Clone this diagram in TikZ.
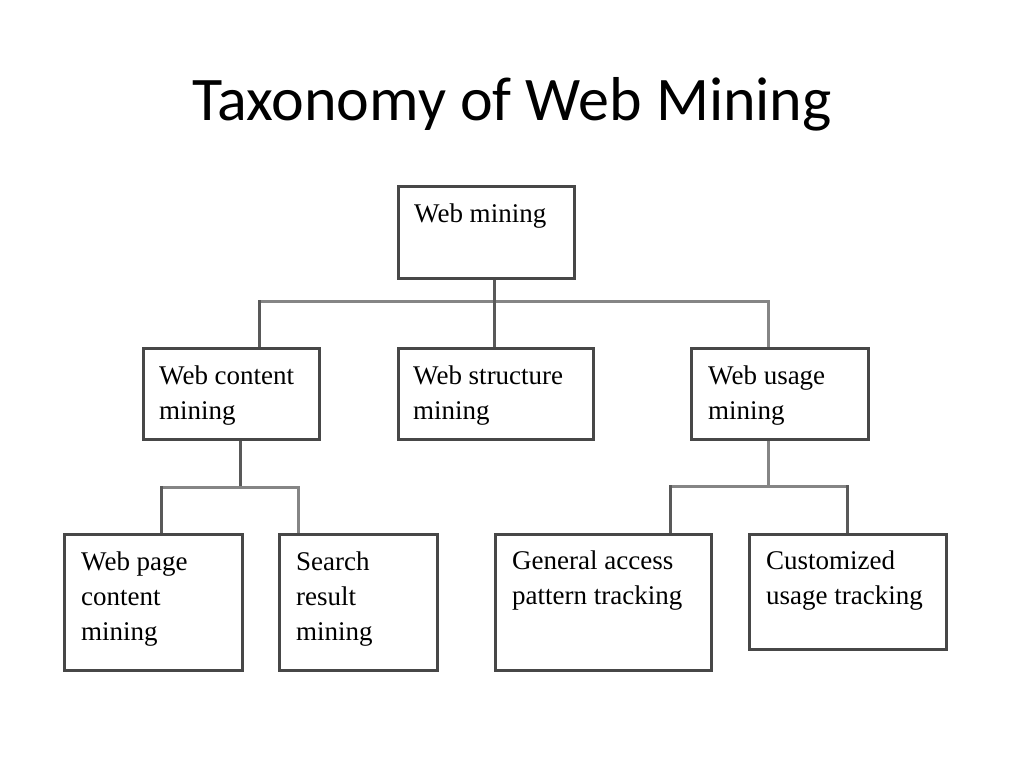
\documentclass[tikz,border=0pt]{standalone}
\usepackage{fontspec}
\usetikzlibrary{backgrounds}
\newfontfamily\titlefont{Carlito}
\newfontfamily\boxfont{Liberation Serif}
\begin{document}
\begin{tikzpicture}[x=1pt,y=-1pt,
  box/.style={draw=black!72, line width=2.8pt, rectangle, inner sep=0pt, anchor=north west, fill=white},
  lbl/.style={inner sep=0pt, anchor=north west, align=left, font=\boxfont\fontsize{27}{35}\selectfont, text=black},
  darkline/.style={draw=black!65, line width=3pt, line cap=rect},
  lightline/.style={draw=black!48, line width=3pt, line cap=rect}]
\useasboundingbox (0,0) rectangle (1024,768);
\node[font=\titlefont\fontsize{62}{70}\selectfont, anchor=base] (title) at (512,120) {Taxonomy of Web Mining};
% junction coordinates
\coordinate (j1) at (494,301);
\coordinate (a1) at (259,301);
\coordinate (a3) at (768,301);
\coordinate (j2) at (240,487);
\coordinate (b1) at (161,487);
\coordinate (b2) at (298,487);
\coordinate (j3) at (768,486);
\coordinate (d1) at (670,486);
\coordinate (d2) at (847,486);
% boxes
\node[box, minimum width=176pt, minimum height=92pt] (wm) at (397,185) {};
\node[box, minimum width=176pt, minimum height=91pt] (cm) at (142,347) {};
\node[box, minimum width=195pt, minimum height=91pt] (sm) at (397,347) {};
\node[box, minimum width=177pt, minimum height=91pt] (um) at (690,347) {};
\node[box, minimum width=178pt, minimum height=136pt] (pm) at (63,533) {};
\node[box, minimum width=158pt, minimum height=136pt] (rm) at (278,533) {};
\node[box, minimum width=216pt, minimum height=136pt] (ga) at (494,533) {};
\node[box, minimum width=197pt, minimum height=115pt] (cu) at (748,533) {};
% labels
\node[lbl] (wmt) at (414,204) {Web mining};
\node[lbl] (cmt) at (159,366) {Web content\\mining};
\node[lbl] (smt) at (413,366) {Web structure\\mining};
\node[lbl] (umt) at (708,366) {Web usage\\mining};
\node[lbl] (pmt) at (81,552) {Web page\\content\\mining};
\node[lbl] (rmt) at (296,552) {Search\\result\\mining};
\node[lbl] (gat) at (512,551) {General access\\pattern tracking};
\node[lbl] (cut) at (766,551) {Customized\\usage tracking};
% connectors (behind the boxes)
\begin{pgfonlayer}{background}
\fill[white] (0,0) rectangle (1024,768);
\draw[darkline] (j1 |- wm.south) -- (j1);
\draw[lightline] (a1) -- (a3);
\draw[darkline] (a1) -- (a1 |- cm.north);
\draw[darkline] (j1) -- (j1 |- sm.north);
\draw[lightline] (a3) -- (a3 |- um.north);
\draw[darkline] (j2 |- cm.south) -- (j2);
\draw[lightline] (b1) -- (b2);
\draw[darkline] (b1) -- (b1 |- pm.north);
\draw[lightline] (b2) -- (b2 |- rm.north);
\draw[lightline] (j3 |- um.south) -- (j3);
\draw[lightline] (d1) -- (d2);
\draw[darkline] (d1) -- (d1 |- ga.north);
\draw[darkline] (d2) -- (d2 |- cu.north);
\end{pgfonlayer}
\end{tikzpicture}
\end{document}
